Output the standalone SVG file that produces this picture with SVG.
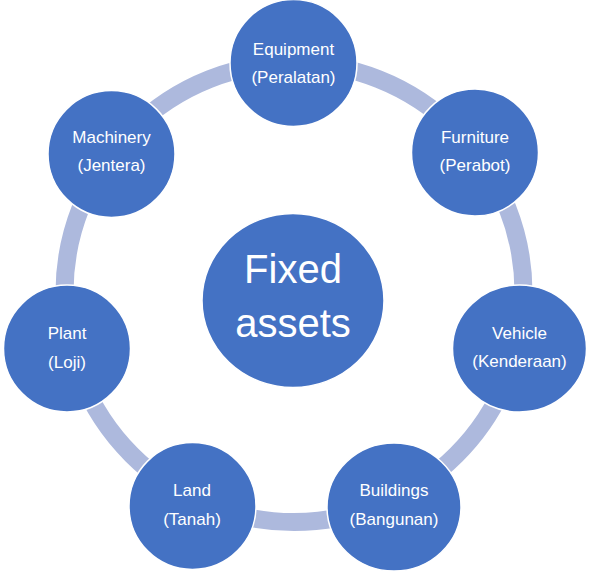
<svg xmlns="http://www.w3.org/2000/svg" width="592" height="571" viewBox="0 0 592 571">
  <style>
    .node { fill: #4472C4; stroke: #FFFFFF; stroke-width: 1.5; }
    .ring { fill: none; stroke: #ADB9DD; stroke-width: 18; }
    .lbl { font-family: "Liberation Sans", Arial, sans-serif; font-size: 17px; fill: #FFFFFF; text-anchor: middle; }
    .big { font-family: "Liberation Sans", Arial, sans-serif; font-size: 40px; fill: #FFFFFF; text-anchor: middle; }
  </style>
  <rect width="592" height="571" fill="#FFFFFF"/>
  <g id="connectors">
    <circle class="ring" cx="294" cy="292.5" r="229.5"/>
  </g>
  <g id="center">
    <ellipse class="node" cx="293" cy="300.5" rx="91" ry="87"/>
    <text class="big" x="293" y="283">Fixed</text>
    <text class="big" x="293" y="336.5">assets</text>
  </g>
  <g id="equipment">
    <circle class="node" cx="293.5" cy="63" r="63.5"/>
    <text class="lbl" x="293.5" y="55">Equipment</text>
    <text class="lbl" x="293.5" y="83">(Peralatan)</text>
  </g>
  <g id="furniture">
    <circle class="node" cx="475" cy="152.5" r="63.5"/>
    <text class="lbl" x="475" y="142.5">Furniture</text>
    <text class="lbl" x="475" y="171">(Perabot)</text>
  </g>
  <g id="vehicle">
    <ellipse class="node" cx="519.5" cy="348.5" rx="67" ry="63.5"/>
    <text class="lbl" x="519.5" y="338.5">Vehicle</text>
    <text class="lbl" x="519.5" y="367">(Kenderaan)</text>
  </g>
  <g id="buildings">
    <ellipse class="node" cx="394" cy="507" rx="67" ry="64"/>
    <text class="lbl" x="394" y="496">Buildings</text>
    <text class="lbl" x="394" y="525">(Bangunan)</text>
  </g>
  <g id="land">
    <circle class="node" cx="192.5" cy="506" r="63.5"/>
    <text class="lbl" x="192" y="496">Land</text>
    <text class="lbl" x="192" y="525">(Tanah)</text>
  </g>
  <g id="plant">
    <circle class="node" cx="67" cy="348.5" r="63.5"/>
    <text class="lbl" x="67" y="339">Plant</text>
    <text class="lbl" x="67" y="368">(Loji)</text>
  </g>
  <g id="machinery">
    <circle class="node" cx="111.5" cy="154" r="63.5"/>
    <text class="lbl" x="111.5" y="142.5">Machinery</text>
    <text class="lbl" x="111.5" y="171">(Jentera)</text>
  </g>
</svg>
